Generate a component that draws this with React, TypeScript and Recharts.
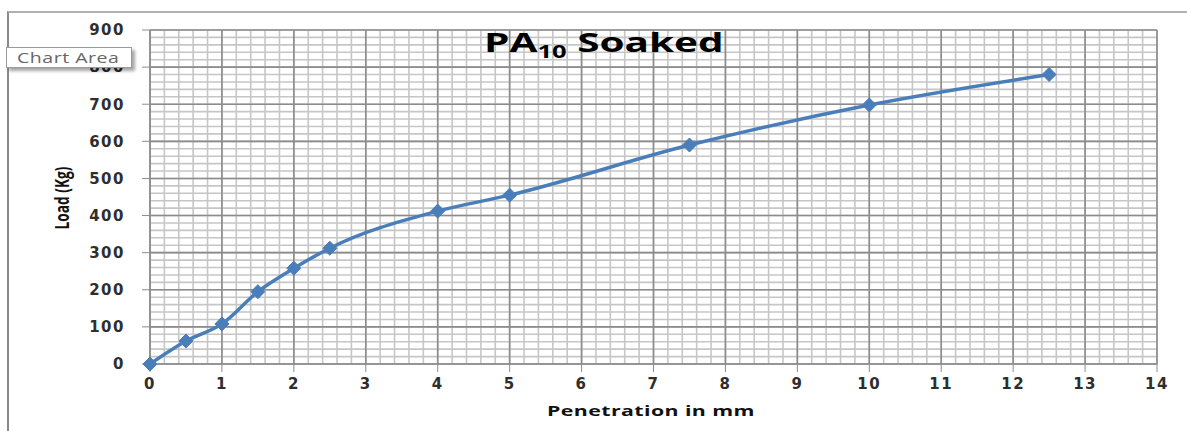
import React from 'react';
import { LineChart, Line, XAxis, YAxis, CartesianGrid } from 'recharts';

// penetration (mm) vs load (kg)
const penetration = [0, 0.5, 1, 1.5, 2, 2.5, 4, 5, 7.5, 10, 12.5];
const load = [0, 62, 108, 195, 258, 312, 412, 455, 590, 698, 780];

const xTicks = [0, 1, 2, 3, 4, 5, 6, 7, 8, 9, 10, 11, 12, 13, 14];
const yTicks = [0, 100, 200, 300, 400, 500, 600, 700, 800, 900];

// graph-paper minor lines: 5 per major division
const xMinor = Array.from({ length: 71 }, (_, i) => +(i * 0.2).toFixed(1));
const yMinor = Array.from({ length: 46 }, (_, i) => i * 20);

const data = penetration.map((p, i) => ({ penetration: p, load: load[i] }));

const lineColor = '#4a7ebb';
const tickStyle = {
  fontSize: 15,
  fontWeight: 700,
  fill: '#2e2e2e',
  fontFamily: 'DejaVu Sans',
  letterSpacing: 1.5,
};

const Diamond = (props: any) => {
  const { cx, cy, index } = props;
  if (cx == null || cy == null) return <g key={`d-${index}`} />;
  const r = 7;
  return (
    <path
      key={`d-${index}`}
      d={`M${cx},${cy - r}L${cx + r},${cy}L${cx},${cy + r}L${cx - r},${cy}Z`}
      fill={lineColor}
      stroke={lineColor}
      strokeWidth={1}
    />
  );
};

export default function App() {
  return (
    <div style={{ position: 'absolute', left: 0, top: 0, width: 1187, height: 431, background: '#fff', overflow: 'hidden' }}>
      {/* chart area frame */}
      <div
        style={{
          position: 'absolute',
          left: 7,
          top: 11,
          width: 1200,
          height: 440,
          borderTop: '2px solid #b0b0b0',
          borderLeft: '2px solid #8a8a8a',
        }}
      />
      <div style={{ position: 'absolute', left: 0, top: 0 }}>
        <LineChart width={1187} height={431} data={data} margin={{ top: 30, right: 30, bottom: 37, left: 0 }}>
          <CartesianGrid
            stroke="#c6c6c6"
            strokeWidth={1.6}
            horizontalValues={yMinor}
            verticalValues={xMinor}
          />
          <CartesianGrid
            stroke="#8c8c8c"
            strokeWidth={1.6}
            horizontalValues={yTicks}
            verticalValues={xTicks}
          />
          <XAxis
            dataKey="penetration"
            type="number"
            domain={[0, 14]}
            ticks={xTicks}
            interval={0}
            height={30}
            tickSize={8}
            tickMargin={6}
            stroke="#8c8c8c"
            tick={tickStyle}
          />
          <YAxis
            dataKey="load"
            type="number"
            domain={[0, 900]}
            ticks={yTicks}
            interval={0}
            width={150}
            tickSize={8}
            tickMargin={17}
            stroke="#8c8c8c"
            tick={tickStyle}
          />
          <Line
            type="monotone"
            dataKey="load"
            stroke={lineColor}
            strokeWidth={3.5}
            dot={Diamond}
            activeDot={false}
            isAnimationActive={false}
          />
        </LineChart>
      </div>
      {/* title */}
      <div
        style={{
          position: 'absolute',
          left: 0,
          width: 1208,
          top: 24,
          textAlign: 'center',
          lineHeight: '36px',
        }}
      >
        <span
          style={{
            display: 'inline-block',
            transform: 'scaleX(1.5)',
            fontFamily: 'Open Sans',
            fontWeight: 700,
            fontSize: 27,
            color: '#000',
          }}
        >
          PA<sub style={{ fontSize: 17, verticalAlign: -6 }}>10</sub> Soaked
        </span>
      </div>
      {/* axis titles */}
      <div
        style={{
          position: 'absolute',
          left: 547,
          top: 400,
          transform: 'scaleX(1.42)',
          transformOrigin: 'left center',
          fontFamily: 'Open Sans',
          fontWeight: 700,
          fontSize: 15,
          letterSpacing: 0.3,
          color: '#111',
          whiteSpace: 'nowrap',
        }}
      >
        Penetration in mm
      </div>
      <div
        style={{
          position: 'absolute',
          left: 62,
          top: 198,
          transform: 'translate(-50%, -50%) rotate(-90deg) scaleX(0.72)',
          fontFamily: 'Open Sans',
          fontWeight: 700,
          fontSize: 19,
          color: '#111',
          whiteSpace: 'nowrap',
        }}
      >
        Load (Kg)
      </div>
      {/* "Chart Area" hover tip */}
      <div
        style={{
          position: 'absolute',
          left: 6,
          top: 47,
          width: 126,
          height: 21,
          background: '#fff',
          border: '1px solid #9a9a9a',
          boxShadow: '3px 3px 3px rgba(0,0,0,0.35)',
          boxSizing: 'border-box',
          overflow: 'hidden',
        }}
      >
        <span
          style={{
            position: 'absolute',
            left: 10,
            top: 0,
            transform: 'scaleX(1.3)',
            transformOrigin: 'left center',
            fontFamily: 'Open Sans',
            fontSize: 15,
            letterSpacing: 0.4,
            color: '#666',
            lineHeight: '19px',
            whiteSpace: 'nowrap',
          }}
        >
          Chart Area
        </span>
      </div>
    </div>
  );
}
